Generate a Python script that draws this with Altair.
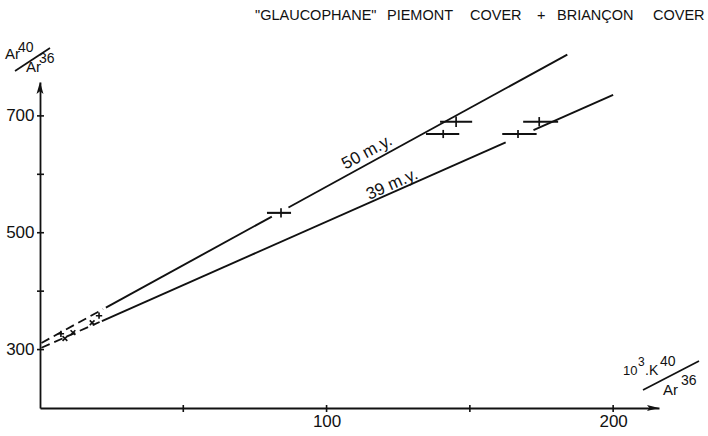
import math
import altair as alt
import pandas as pd

# plot area (pixels) and axis domains
W, H = 619, 326
X_DOMAIN = [0, 216]
Y_DOMAIN = [200, 758]
INK = "#111111"
FONT = "Liberation Sans"

# axis ticks
Y_TICKS = [300, 400, 500, 600, 700]
Y_LABELED = [300, 500, 700]
X_TICKS = [50, 100, 150, 200]
X_LABELED = [100, 200]

# isochron lines: 40Ar/36Ar = intercept + slope * (10^3 K40/Ar36)
LINE_NAMES = ["50 m.y.", "39 m.y."]
LINE_INTERCEPT = [310.0, 302.0]
LINE_SLOPE = [2.69, 2.17]
LABEL_AT_X = [115.9, 123.9]
LABEL_LIFT = [10.5, 7.5]

# drawn pieces of each isochron (index into LINE_NAMES)
SEG_LINE = [0, 0, 0, 1, 1, 1]
SEG_START = [0.5, 23.0, 86.7, 0.5, 21.6, 172.2]
SEG_END = [22.0, 80.9, 184.0, 20.8, 162.5, 200.0]
SEG_DASHED = [True, False, False, True, False, False]

# samples with uncertainty bars
PT_X = [84.1, 145.2, 140.7, 166.8, 174.2]
PT_X_LO = [79.2, 139.6, 134.7, 161.3, 168.6]
PT_X_HI = [87.6, 150.8, 146.3, 173.3, 180.8]
PT_Y = [534, 690, 669, 669, 690]
PT_Y_ERR = [8, 9, 7, 7, 8]

# low-potassium samples near the origin
SM_X = [7.3, 8.7, 11.5, 18.2, 20.6]
SM_Y = [327, 319, 329, 346, 358]
SM_KIND = ["plus", "times", "times", "times", "plus"]

# heading words and their left edges / baseline (pixels from plot origin)
HEAD_WORDS = ['"GLAUCOPHANE"', "PIEMONT", "COVER", "+", "BRIANÇON", "COVER"]
HEAD_X = [215, 347, 430, 497, 517, 613]
HEAD_Y = -62

# stacked axis titles: (text, left x, baseline y, font size)
Y_TITLE_PARTS = [("Ar", -35, -23, 15), ("40", -22, -30, 14), ("Ar", -14, -10, 15), ("36", -1, -19, 14)]
Y_TITLE_SLASH = (-25, -11, 10, -34)
X_TITLE_PARTS = [("10", 583, 293, 13), ("3", 598, 284, 12), (".", 605, 293, 14), ("K", 609, 293, 14),
                 ("40", 620, 284, 14), ("Ar", 623, 313, 15), ("36", 641, 303, 14)]
X_TITLE_SLASH = (603, 308, 659, 279)

xs = alt.Scale(domain=X_DOMAIN, nice=False, zero=False)
ys = alt.Scale(domain=Y_DOMAIN, nice=False, zero=False)

x_axis = alt.Axis(values=X_LABELED, ticks=False, grid=False, title=None, domainColor=INK,
                  domainWidth=1.8, labelFont=FONT, labelFontSize=17, labelColor=INK,
                  labelPadding=5, format="d")
y_axis = alt.Axis(values=Y_LABELED, ticks=False, grid=False, title=None, domainColor=INK,
                  domainWidth=1.8, labelFont=FONT, labelFontSize=17, labelColor=INK,
                  labelPadding=6, format="d")

# line segments
seg = pd.DataFrame({
    "line": [LINE_NAMES[i] for i in SEG_LINE],
    "x0": SEG_START,
    "x1": SEG_END,
    "dashed": SEG_DASHED,
})
seg["y0"] = [LINE_INTERCEPT[i] + LINE_SLOPE[i] * x for i, x in zip(SEG_LINE, SEG_START)]
seg["y1"] = [LINE_INTERCEPT[i] + LINE_SLOPE[i] * x for i, x in zip(SEG_LINE, SEG_END)]

solid = alt.Chart(seg[~seg["dashed"]]).mark_rule(color=INK, strokeWidth=1.9).encode(
    x=alt.X("x0:Q", scale=xs, axis=x_axis), x2="x1:Q",
    y=alt.Y("y0:Q", scale=ys, axis=y_axis), y2="y1:Q",
)
dashed = alt.Chart(seg[seg["dashed"]]).mark_rule(color=INK, strokeWidth=1.8, strokeDash=[9, 5]).encode(
    x=alt.X("x0:Q", scale=xs), x2="x1:Q", y=alt.Y("y0:Q", scale=ys), y2="y1:Q",
)

# axis ticks crossing the axis lines
yt = alt.Chart(pd.DataFrame({"v": Y_TICKS})).mark_rule(color=INK, strokeWidth=1.6).encode(
    y=alt.Y("v:Q", scale=ys), x=alt.value(-3), x2=alt.value(4))
xt = alt.Chart(pd.DataFrame({"v": X_TICKS})).mark_rule(color=INK, strokeWidth=1.6).encode(
    x=alt.X("v:Q", scale=xs), y=alt.value(H - 3), y2=alt.value(H + 4))

# arrowheads at the ends of the axes
arrow_up = alt.Chart(pd.DataFrame({"a": [0]})).mark_point(
    shape="M0,-1L0.58,1L0,0.55L-0.58,1Z", filled=True, color=INK, size=144, opacity=1
).encode(x=alt.value(0), y=alt.value(6))
arrow_right = alt.Chart(pd.DataFrame({"a": [0]})).mark_point(
    shape="M1,0L-1,0.5L-0.6,0L-1,-0.5Z", filled=True, color=INK, size=144, opacity=1
).encode(x=alt.value(W - 6), y=alt.value(H))

# samples: horizontal uncertainty bars and short vertical arms
pts = pd.DataFrame({"x": PT_X, "lo": PT_X_LO, "hi": PT_X_HI, "y": PT_Y, "e": PT_Y_ERR})
pts["ylo"] = pts["y"] - pts["e"]
pts["yhi"] = pts["y"] + pts["e"]
hbar = alt.Chart(pts).mark_rule(color=INK, strokeWidth=2.1).encode(
    x=alt.X("lo:Q", scale=xs), x2="hi:Q", y=alt.Y("y:Q", scale=ys))
vbar = alt.Chart(pts).mark_rule(color=INK, strokeWidth=1.7).encode(
    x=alt.X("x:Q", scale=xs), y=alt.Y("ylo:Q", scale=ys), y2="yhi:Q")

small = alt.Chart(pd.DataFrame({"x": SM_X, "y": SM_Y, "kind": SM_KIND})).mark_point(
    filled=False, color=INK, size=40, strokeWidth=1.6, opacity=1
).encode(
    x=alt.X("x:Q", scale=xs), y=alt.Y("y:Q", scale=ys),
    shape=alt.Shape("kind:N", scale=alt.Scale(
        domain=["plus", "times"],
        range=["M-1,0L1,0M0,-1L0,1", "M-0.75,-0.75L0.75,0.75M-0.75,0.75L0.75,-0.75"]), legend=None),
)

layers = [solid, dashed, yt, xt, arrow_up, arrow_right, hbar, vbar, small]

# age labels written along each isochron
kx = W / (X_DOMAIN[1] - X_DOMAIN[0])
ky = H / (Y_DOMAIN[1] - Y_DOMAIN[0])
for i, name in enumerate(LINE_NAMES):
    deg = math.degrees(math.atan(LINE_SLOPE[i] * ky / kx))
    lx = LABEL_AT_X[i]
    ly = LINE_INTERCEPT[i] + LINE_SLOPE[i] * lx
    layers.append(
        alt.Chart(pd.DataFrame({"t": [name], "x": [lx], "y": [ly]})).mark_text(
            font=FONT, fontSize=17, color=INK, angle=360 - deg, align="center",
            baseline="middle", dy=-LABEL_LIFT[i]
        ).encode(x=alt.X("x:Q", scale=xs), y=alt.Y("y:Q", scale=ys), text="t:N")
    )


def label(text, px, py, size, align="left"):
    return alt.Chart(pd.DataFrame({"t": [text]})).mark_text(
        font=FONT, fontSize=size, color=INK, align=align, baseline="alphabetic"
    ).encode(x=alt.value(px), y=alt.value(py), text="t:N")


for word, hx in zip(HEAD_WORDS, HEAD_X):
    layers.append(label(word, hx, HEAD_Y, 14.5))
for t, px, py, s in Y_TITLE_PARTS + X_TITLE_PARTS:
    layers.append(label(t, px, py, s))
for x1, y1, x2, y2 in [Y_TITLE_SLASH, X_TITLE_SLASH]:
    layers.append(
        alt.Chart(pd.DataFrame({"a": [0]})).mark_rule(color=INK, strokeWidth=1.7).encode(
            x=alt.value(x1), y=alt.value(y1), x2=alt.value(x2), y2=alt.value(y2))
    )

chart = alt.layer(*layers).properties(
    width=W, height=H,
    autosize=alt.AutoSizeParams(type="none"),
    padding={"left": 40, "top": 82, "right": 708 - 40 - W, "bottom": 436 - 82 - H},
    background="white",
).configure_view(stroke=None)

chart.save("out.html", embed_options={"renderer": "svg", "actions": False})
